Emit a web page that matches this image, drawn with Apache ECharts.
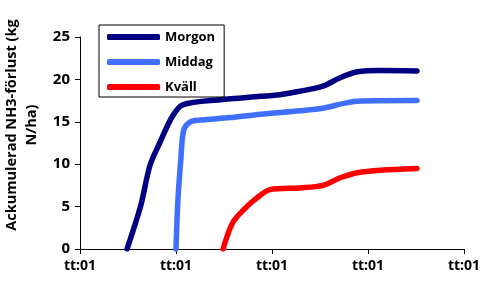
<!DOCTYPE html>
<html>
<head>
<meta charset="utf-8">
<script src="https://cdn.jsdelivr.net/npm/echarts@6/dist/echarts.min.js"></script>
<style>
  html, body { margin: 0; padding: 0; background: #fff; }
  #chart { width: 483px; height: 281px; }
</style>
</head>
<body>
<div id="chart"></div>
<script>
// tidsaxel (en enhet = ett tick)
var tickLabels = ["tt:01", "tt:01", "tt:01", "tt:01", "tt:01"];

var morgonX = [0.49, 0.63, 0.73, 0.83, 0.96, 1.07, 1.46, 1.88, 2.08, 2.29, 2.53, 2.71, 2.89, 3.13, 3.51];
var morgonY = [0, 5, 9.9, 12.5, 15.6, 17.0, 17.6, 18.0, 18.2, 18.6, 19.2, 20.2, 20.9, 21.05, 21.0];

var middagX = [1.0, 1.02, 1.05, 1.08, 1.15, 1.25, 1.56, 1.88, 2.29, 2.53, 2.76, 2.92, 3.51];
var middagY = [0, 5.8, 10.5, 14.0, 15.0, 15.2, 15.5, 15.9, 16.3, 16.6, 17.2, 17.45, 17.5];

var kvallX = [1.49, 1.59, 1.72, 1.84, 1.98, 2.29, 2.53, 2.71, 2.89, 3.13, 3.51];
var kvallY = [0, 3.1, 4.8, 6.0, 7.0, 7.2, 7.5, 8.4, 9.0, 9.3, 9.5];

function pairs(xs, ys) {
  return xs.map(function (x, i) { return [x, ys[i]]; });
}

var font = "Open Sans";
var chart = echarts.init(document.getElementById("chart"));

function serie(name, color, xs, ys) {
  return {
    name: name,
    type: "line",
    data: pairs(xs, ys),
    symbol: "none",
    smooth: 0.3,
    lineStyle: { width: 5.5, color: color, cap: "round", join: "round" },
    itemStyle: { color: color }
  };
}

chart.setOption({
  animation: false,
  grid: { left: 80, right: 19, top: 37, bottom: 32, outerBoundsMode: "none", containLabel: false },
  legend: {
    orient: "vertical",
    left: 99,
    top: 25,
    padding: [5, 9, 3, 8],
    itemGap: 11,
    itemWidth: 53,
    itemHeight: 6,
    icon: "roundRect",
    borderColor: "#000",
    borderWidth: 1,
    textStyle: { fontFamily: font, fontWeight: "bold", fontSize: 13, color: "#000", lineHeight: 14 },
    data: ["Morgon", "Middag", "Kväll"]
  },
  xAxis: {
    type: "value",
    min: 0,
    max: 4,
    interval: 1,
    splitLine: { show: false },
    axisLine: { lineStyle: { color: "#000", width: 1 } },
    axisTick: { show: true, length: 5, lineStyle: { color: "#000" } },
    axisLabel: {
      margin: 10,
      fontFamily: font, fontWeight: "bold", fontSize: 14, color: "#000",
      formatter: function (v) { return tickLabels[Math.round(v)]; }
    }
  },
  yAxis: {
    type: "value",
    min: 0,
    max: 25,
    interval: 5,
    name: "Ackumulerad NH3-förlust (kg\nN/ha)",
    nameLocation: "middle",
    nameGap: 26,
    nameRotate: 90,
    nameTextStyle: { fontFamily: font, fontWeight: "bold", fontSize: 14.5, color: "#000", lineHeight: 20, padding: [0, 0, 0, 36] },
    splitLine: { show: false },
    axisLine: { show: true, lineStyle: { color: "#000", width: 1 } },
    axisTick: { show: true, length: 5, lineStyle: { color: "#000" } },
    axisLabel: { margin: 10, fontFamily: font, fontWeight: "bold", fontSize: 15, color: "#000" }
  },
  series: [
    serie("Morgon", "#000080", morgonX, morgonY),
    serie("Middag", "#3f6fff", middagX, middagY),
    serie("Kväll", "#ff0000", kvallX, kvallY)
  ]
});
</script>
</body>
</html>
